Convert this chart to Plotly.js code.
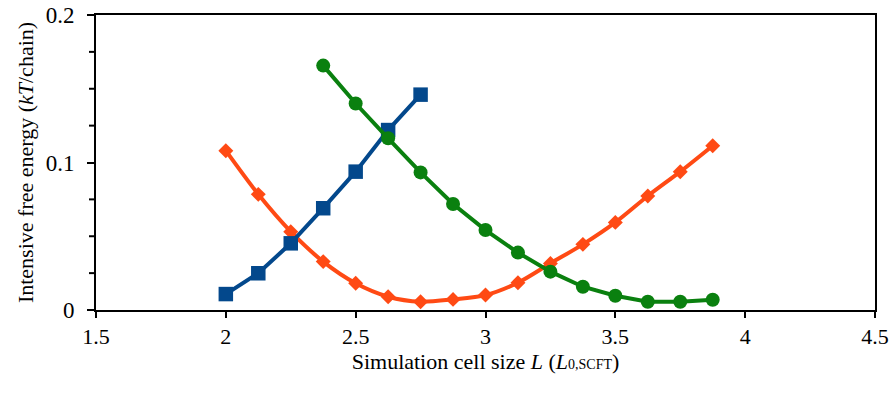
<!DOCTYPE html>
<html>
<head>
<meta charset="utf-8">
<script src="https://cdn.plot.ly/plotly-3.0.1.min.js"></script>
<style>html,body{margin:0;padding:0;background:#fff;}#chart{width:894px;height:393px;}</style>
</head>
<body>
<div id="chart"></div>
<script>
// Blue squares
const blueX = [2, 2.125, 2.25, 2.375, 2.5, 2.625, 2.75];
const blueY = [0.0108, 0.0249, 0.0452, 0.069, 0.0938, 0.122, 0.146];
// Green circles
const greenX = [2.375, 2.5, 2.625, 2.75, 2.875, 3, 3.125, 3.25, 3.375, 3.5, 3.625, 3.75, 3.875];
const greenY = [0.1657, 0.140, 0.1164, 0.0933, 0.0719, 0.0542, 0.0389, 0.026, 0.0158, 0.0097, 0.0056, 0.0056, 0.007];
// Orange diamonds
const orangeX = [2, 2.125, 2.25, 2.375, 2.5, 2.625, 2.75, 2.875, 3, 3.125, 3.25, 3.375, 3.5, 3.625, 3.75, 3.875];
const orangeY = [0.108, 0.0784, 0.0531, 0.0328, 0.0181, 0.009, 0.0056, 0.0072, 0.0101, 0.0185, 0.0316, 0.0445, 0.0594, 0.0773, 0.0938, 0.1114];

const xRange = [1.5, 4.5];
const yRange = [0, 0.2];
const xTickVals = [1.5, 2, 2.5, 3, 3.5, 4, 4.5];
const xTickText = ['1.5', '2', '2.5', '3', '3.5', '4', '4.5'];
const yTickVals = [0, 0.1, 0.2];
const yTickText = ['0', '0.1', '0.2'];
const yMinorTickVals = [0.025, 0.05, 0.075, 0.125, 0.15, 0.175];

function mkFont(sz) { return {family: '"Liberation Serif", serif', size: sz, color: '#000'}; }

const traces = [
  {x: orangeX, y: orangeY, mode: 'lines+markers', line: {color: '#FF4A14', width: 4, shape: 'spline', smoothing: 0.8},
   marker: {symbol: 'diamond', size: 11.5, color: '#FF4A14'}},
  {x: blueX, y: blueY, mode: 'lines+markers', line: {color: '#03488C', width: 4},
   marker: {symbol: 'square', size: 14.5, color: '#03488C'}},
  {x: greenX, y: greenY, mode: 'lines+markers', line: {color: '#0A800F', width: 4},
   marker: {symbol: 'circle', size: 14, color: '#0A800F'}}
];

// minor y ticks drawn at the axis range fractions
const minorShapes = yMinorTickVals.map(v => {
  const f = (v - yRange[0]) / (yRange[1] - yRange[0]);
  return {type: 'line', xref: 'paper', yref: 'paper', xsizemode: 'pixel', xanchor: 0, x0: -7, x1: 0, y0: f, y1: f,
          line: {color: '#000', width: 2}, layer: 'above'};
});

const layout = {
  width: 894, height: 393,
  margin: {l: 96, r: 19, t: 15, b: 83},
  paper_bgcolor: '#fff', plot_bgcolor: '#fff',
  showlegend: false,
  font: mkFont(22),
  shapes: minorShapes,
  xaxis: {
    range: xRange, tickmode: 'array', tickvals: xTickVals, ticktext: xTickText,
    showgrid: false, zeroline: false, showline: true, mirror: true, linecolor: '#000', linewidth: 2,
    ticks: 'outside', ticklen: 6, tickwidth: 2, tickcolor: '#000',
    tickfont: mkFont(22), automargin: false,
    title: {text: 'Simulation cell size <i>L</i> (<i>L</i><span style="font-size:14px">0,SCFT</span>)', font: mkFont(22), standoff: 2}
  },
  yaxis: {
    range: yRange, tickmode: 'array', tickvals: yTickVals, ticktext: yTickText,
    showgrid: false, zeroline: false, showline: true, mirror: true, linecolor: '#000', linewidth: 2,
    ticks: 'outside', ticklen: 7, tickwidth: 2, tickcolor: '#000', ticklabelstandoff: 8,
    tickfont: mkFont(23), automargin: false,
    title: {text: 'Intensive free energy (<i>kT</i>/chain)', font: mkFont(22), standoff: 6}
  }
};

Plotly.newPlot('chart', traces, layout, {displayModeBar: false});
</script>
</body>
</html>
